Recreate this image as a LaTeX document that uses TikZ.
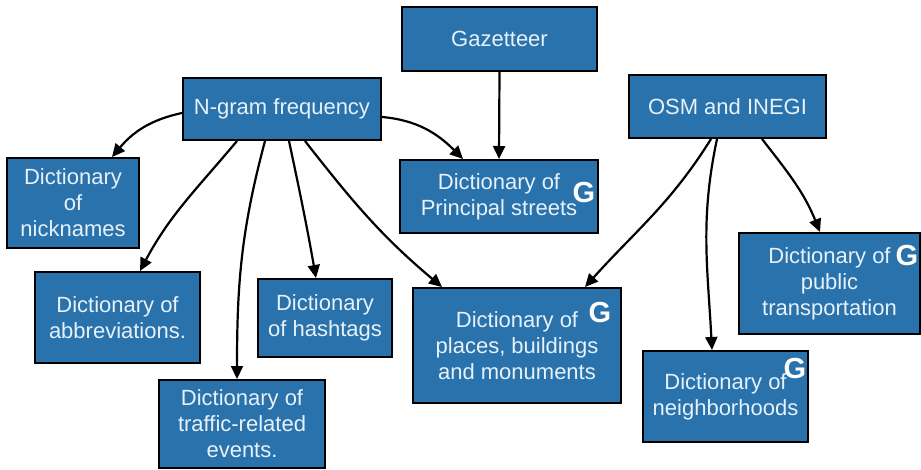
\documentclass[tikz,border=0pt]{standalone}
\usepackage{fontspec}
\setmainfont{Liberation Sans}
\usetikzlibrary{arrows.meta}
\definecolor{boxblue}{HTML}{2A72AB}
\definecolor{boxtext}{HTML}{E6F1FA}
\tikzset{
  dictbox/.style={draw=black, line width=2pt, fill=boxblue, text=boxtext,
    align=center, inner sep=0pt, font=\fontsize{22}{26}\selectfont},
  gmark/.style={text=white, inner sep=0pt, font=\fontsize{29}{30}\selectfont\bfseries},
  conn/.style={draw=black, line width=2.2pt, -{Triangle[length=13pt,width=12pt]}},
}
\begin{document}
\begin{tikzpicture}[x=1pt,y=1pt]
\useasboundingbox (0,0) rectangle (921,469);
% boxes
\node[dictbox, minimum width=195pt, minimum height=64pt] (gaz) at (499.5,430) {Gazetteer};
\node[dictbox, minimum width=198pt, minimum height=62pt] (ngram) at (282,360) {N-gram frequency};
\node[dictbox, minimum width=197pt, minimum height=63pt] (osm) at (727.5,362.5) {OSM and INEGI};
\node[dictbox, minimum width=132pt, minimum height=90pt] (nick) at (73,266) {Dictionary\\of\\nicknames};
\node[dictbox, minimum width=198pt, minimum height=73pt] (princ) at (499,272.5) {Dictionary of\\Principal streets};
\node[dictbox, minimum width=165pt, minimum height=91pt] (abbr) at (117.5,151.5) {Dictionary of\\abbreviations.};
\node[dictbox, minimum width=134pt, minimum height=78pt] (hash) at (325,151) {Dictionary\\of hashtags};
\node[dictbox, minimum width=166pt, minimum height=88pt] (traffic) at (242,45) {Dictionary of\\traffic-related\\events.};
\node[dictbox, minimum width=208pt, minimum height=115pt] (places) at (517,123.5) {Dictionary of\\places, buildings\\and monuments};
\node[dictbox, minimum width=181pt, minimum height=101pt] (public) at (829.5,185.5) {Dictionary of\\public\\transportation};
\node[dictbox, minimum width=165pt, minimum height=91pt] (neigh) at (725.5,72.5) {Dictionary of\\neighborhoods};
% G marks
\node[gmark] (g1) at (584,276) {G};
\node[gmark] (g2) at (600,156) {G};
\node[gmark] (g3) at (907,213) {G};
\node[gmark] (g4) at (795,100) {G};
% connectors
\draw[conn] ([yshift=-4pt]ngram.west) to[out=192,in=50] ([xshift=39pt]nick.north);
\draw[conn] ([yshift=-8pt]ngram.east) to[out=-5,in=135] ([xshift=-36pt]princ.north);
\draw[conn] ([xshift=-45pt]ngram.south) to[out=-130,in=62] ([xshift=22.5pt]abbr.north);
\draw[conn] ([xshift=-17pt]ngram.south) to[out=-105,in=90] ([xshift=-5pt]traffic.north);
\draw[conn] ([xshift=7pt]ngram.south) to[out=-78,in=100] ([xshift=-9pt]hash.north);
\draw[conn] ([xshift=23pt]ngram.south) to[out=-52,in=140] ([xshift=-75pt]places.north);
\draw[conn] (gaz.south) -- (princ.north);
\draw[conn] ([xshift=-16.5pt]osm.south) to[out=-122,in=48] ([xshift=68pt]places.north);
\draw[conn] ([xshift=-10.5pt]osm.south) to[out=-102,in=93] ([xshift=-13.5pt]neigh.north);
\draw[conn] ([xshift=34.5pt]osm.south) to[out=-52,in=112] ([xshift=-9.5pt]public.north);
\end{tikzpicture}
\end{document}
